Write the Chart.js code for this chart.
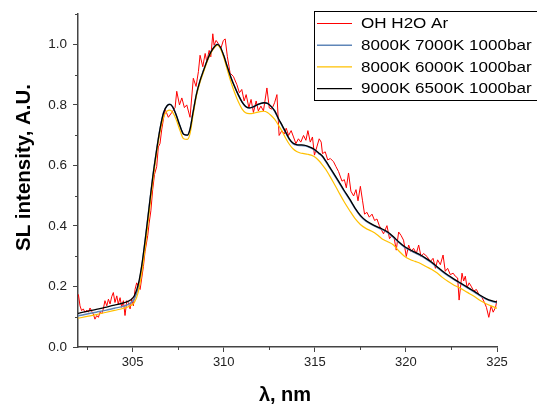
<!DOCTYPE html>
<html><head><meta charset="utf-8">
<script src="https://cdn.jsdelivr.net/npm/chart.js@4/dist/chart.umd.min.js"></script>
<style>html,body{margin:0;padding:0;background:#fff}#wrap{width:537px;height:413px}</style>
</head><body><div id="wrap"><canvas id="c" width="537" height="413"></canvas></div>
<script>
const seriesLabels = ['OH H2O Ar', '8000K 7000K 1000bar', '8000K 6000K 1000bar', '9000K 6500K 1000bar'];
const seriesColors = ['#ff0000', '#5f86b8', '#ffc000', '#000000'];

const ohX = [302.02,302.11,302.2,302.29,302.38,302.48,302.57,302.66,302.75,302.84,302.93,303.03,303.12,303.21,303.3,303.39,303.48,303.58,303.67,303.76,303.85,303.94,304.03,304.13,304.21,304.31,304.4,304.49,304.58,304.68,304.76,304.86,304.95,305.04,305.13,305.22,305.31,305.41,305.5,305.59,305.68,305.83,305.9,306.0,306.1,306.2,306.32,306.41,306.5,306.6,306.78,306.96,307.15,307.33,307.42,307.57,307.7,307.84,307.97,308.15,308.33,308.48,308.61,308.7,308.85,308.98,309.07,309.2,309.29,309.4,309.47,309.58,309.71,309.84,309.98,310.08,310.2,310.35,310.53,310.72,310.86,310.99,311.12,311.23,311.38,311.5,311.63,311.78,311.9,312.04,312.18,312.37,312.5,312.64,312.79,312.92,313.04,313.19,313.32,313.43,313.56,313.7,313.83,313.96,314.1,314.23,314.38,314.51,314.62,314.75,314.87,314.98,315.11,315.24,315.35,315.42,315.57,315.71,315.85,316.03,316.16,316.3,316.49,316.62,316.73,316.85,316.98,317.13,317.26,317.37,317.5,317.62,317.73,317.86,317.99,318.14,318.28,318.41,318.54,318.77,318.96,319.1,319.24,319.36,319.47,319.6,319.73,319.87,320.02,320.15,320.28,320.42,320.57,320.7,320.83,320.97,321.16,321.34,321.49,321.62,321.74,321.89,322.04,322.16,322.29,322.44,322.59,322.71,322.84,322.92,323.08,323.17,323.26,323.36,323.47,323.58,323.72,323.87,324.0,324.18,324.31,324.42,324.55,324.68,324.79,324.92,325.0];
const ohY = [0.174,0.136,0.12,0.126,0.115,0.122,0.115,0.129,0.118,0.109,0.092,0.104,0.098,0.115,0.109,0.126,0.153,0.136,0.158,0.142,0.166,0.18,0.147,0.169,0.142,0.163,0.131,0.153,0.104,0.153,0.147,0.126,0.158,0.136,0.19,0.212,0.201,0.19,0.228,0.266,0.315,0.369,0.407,0.45,0.52,0.57,0.596,0.661,0.672,0.72,0.786,0.759,0.775,0.791,0.845,0.80,0.823,0.791,0.80,0.759,0.888,0.861,0.91,0.964,0.926,0.97,0.943,0.98,0.959,1.035,0.997,1.013,1.002,0.986,1.013,1.018,0.959,0.905,0.894,0.867,0.84,0.851,0.813,0.834,0.791,0.818,0.775,0.813,0.78,0.796,0.78,0.856,0.79,0.786,0.807,0.834,0.699,0.715,0.704,0.723,0.699,0.715,0.694,0.672,0.688,0.677,0.699,0.683,0.715,0.677,0.694,0.634,0.661,0.688,0.677,0.639,0.645,0.618,0.623,0.612,0.596,0.58,0.548,0.553,0.526,0.575,0.515,0.499,0.52,0.483,0.531,0.483,0.439,0.445,0.429,0.439,0.418,0.423,0.401,0.374,0.401,0.358,0.369,0.358,0.32,0.38,0.369,0.353,0.299,0.337,0.315,0.326,0.309,0.337,0.299,0.309,0.299,0.282,0.293,0.26,0.288,0.272,0.304,0.25,0.26,0.239,0.244,0.234,0.228,0.155,0.244,0.218,0.234,0.196,0.212,0.201,0.185,0.19,0.174,0.163,0.147,0.131,0.098,0.136,0.115,0.131,0.155];

const modelX = [302.0,302.5,303.0,303.5,304.0,304.5,304.9,305.1,305.3,305.5,305.7,305.9,306.1,306.3,306.5,306.7,306.9,307.05,307.2,307.4,307.6,307.8,308.0,308.15,308.3,308.5,308.7,308.9,309.1,309.3,309.5,309.65,309.8,310.0,310.2,310.4,310.6,310.8,311.0,311.2,311.4,311.6,311.8,312.0,312.2,312.4,312.6,312.8,313.0,313.2,313.4,313.6,313.8,314.0,314.2,314.4,314.6,314.8,315.0,315.2,315.4,315.6,315.8,316.0,316.3,316.6,316.9,317.2,317.5,317.8,318.1,318.4,318.7,319.0,319.3,319.6,319.9,320.2,320.5,320.8,321.1,321.4,321.7,322.0,322.3,322.6,322.9,323.2,323.5,323.8,324.1,324.4,324.7,325.0];
const k8070Y = [0.103,0.109,0.115,0.121,0.128,0.135,0.146,0.160,0.195,0.265,0.358,0.46,0.56,0.645,0.72,0.775,0.798,0.802,0.793,0.765,0.73,0.703,0.700,0.72,0.77,0.835,0.88,0.915,0.948,0.975,0.993,1.0,0.992,0.963,0.925,0.89,0.86,0.833,0.81,0.795,0.79,0.793,0.799,0.804,0.807,0.805,0.795,0.779,0.754,0.731,0.708,0.686,0.672,0.667,0.666,0.665,0.662,0.657,0.650,0.640,0.630,0.613,0.594,0.575,0.546,0.516,0.488,0.458,0.433,0.416,0.405,0.396,0.388,0.378,0.363,0.346,0.331,0.320,0.311,0.302,0.291,0.279,0.264,0.249,0.236,0.224,0.213,0.202,0.191,0.180,0.168,0.158,0.151,0.147];
const k8060Y = [0.095,0.101,0.107,0.114,0.121,0.128,0.137,0.148,0.18,0.245,0.335,0.44,0.545,0.635,0.71,0.76,0.78,0.783,0.775,0.75,0.715,0.688,0.686,0.705,0.76,0.83,0.875,0.91,0.945,0.972,0.99,0.997,0.988,0.957,0.915,0.875,0.84,0.81,0.787,0.774,0.771,0.772,0.775,0.778,0.779,0.775,0.765,0.752,0.733,0.713,0.69,0.67,0.655,0.646,0.641,0.639,0.637,0.634,0.628,0.617,0.603,0.587,0.567,0.546,0.513,0.481,0.452,0.425,0.405,0.392,0.383,0.372,0.357,0.348,0.338,0.318,0.301,0.29,0.283,0.276,0.266,0.257,0.245,0.23,0.217,0.206,0.197,0.187,0.176,0.165,0.153,0.143,0.135,0.128];
const k9065Y = [0.111,0.118,0.124,0.131,0.138,0.146,0.156,0.17,0.205,0.27,0.36,0.46,0.56,0.645,0.72,0.775,0.798,0.802,0.793,0.765,0.73,0.703,0.700,0.72,0.77,0.835,0.88,0.915,0.948,0.975,0.993,1.0,0.992,0.963,0.925,0.89,0.86,0.833,0.81,0.795,0.79,0.793,0.799,0.804,0.807,0.805,0.795,0.78,0.755,0.733,0.71,0.688,0.674,0.669,0.668,0.667,0.664,0.659,0.652,0.642,0.632,0.615,0.596,0.577,0.548,0.518,0.49,0.46,0.435,0.418,0.407,0.398,0.39,0.38,0.365,0.348,0.333,0.322,0.313,0.304,0.293,0.281,0.266,0.251,0.238,0.226,0.215,0.204,0.193,0.182,0.17,0.16,0.153,0.149];

const xTicks = [305, 310, 315, 320, 325];
const xMinor = [302.5, 307.5, 312.5, 317.5, 322.5];
const yTicks = [0.0, 0.2, 0.4, 0.6, 0.8, 1.0];
const yMinor = [0.1, 0.3, 0.5, 0.7, 0.9, 1.1];
const xTitle = 'λ, nm';
const yTitle = 'SL intensity, A.U.';

const FONT = '"Liberation Sans", Arial, sans-serif';
const AXIS = '#444';

function pts(xs, ys) { return xs.map((x, i) => ({ x: x, y: ys[i] })); }

const minorTicks = {
  id: 'minorTicks',
  afterDraw(chart) {
    const ctx = chart.ctx, xs = chart.scales.x, ys = chart.scales.y;
    const a = chart.chartArea;
    ctx.save();
    ctx.strokeStyle = AXIS; ctx.lineWidth = 1;
    ctx.beginPath();
    xMinor.forEach(v => { const p = Math.round(xs.getPixelForValue(v)) + 0.5; ctx.moveTo(p, a.bottom); ctx.lineTo(p, a.bottom + 3); });
    yMinor.forEach(v => { const p = Math.round(ys.getPixelForValue(v)) + 0.5; ctx.moveTo(a.left, p); ctx.lineTo(a.left - 3, p); });
    ctx.stroke();
    ctx.fillStyle = '#000';
    ctx.font = 'bold 20px ' + FONT;
    ctx.textAlign = 'center'; ctx.textBaseline = 'alphabetic';
    ctx.fillText(xTitle, 285, 401);
    ctx.translate(29.5, 167.5); ctx.rotate(-Math.PI / 2);
    ctx.font = 'bold 20.5px ' + FONT;
    ctx.fillText(yTitle, 0, 0);
    ctx.restore();
  }
};

const boxLegend = {
  id: 'boxLegend',
  afterDraw(chart) {
    const ctx = chart.ctx;
    ctx.save();
    ctx.fillStyle = '#fff';
    ctx.fillRect(314.5, 11.5, 240, 89);
    ctx.strokeStyle = '#000'; ctx.lineWidth = 1;
    ctx.strokeRect(314.5, 11.5, 240, 89);
    chart.data.datasets.forEach((ds, i) => {
      const y = 23.5 + i * 21.7;
      ctx.strokeStyle = ds.borderColor; ctx.lineWidth = ds.borderWidth;
      ctx.beginPath(); ctx.moveTo(317, y); ctx.lineTo(352, y); ctx.stroke();
      ctx.save();
      ctx.translate(361, y + 0.5); ctx.scale(1.1, 1);
      ctx.fillStyle = '#000'; ctx.font = '15.5px ' + FONT;
      ctx.textAlign = 'left'; ctx.textBaseline = 'middle';
      ctx.fillText(ds.label, 0, 0);
      ctx.restore();
    });
    ctx.restore();
  }
};

new Chart(document.getElementById('c'), {
  type: 'line',
  data: {
    datasets: [
      { label: seriesLabels[0], data: pts(ohX, ohY), borderColor: seriesColors[0], borderWidth: 1, tension: 0, order: 3 },
      { label: seriesLabels[1], data: pts(modelX, k8070Y), borderColor: seriesColors[1], borderWidth: 1.5, cubicInterpolationMode: 'monotone', order: 2 },
      { label: seriesLabels[2], data: pts(modelX, k8060Y), borderColor: seriesColors[2], borderWidth: 1.2, cubicInterpolationMode: 'monotone', order: 1 },
      { label: seriesLabels[3], data: pts(modelX, k9065Y), borderColor: seriesColors[3], borderWidth: 1.3, cubicInterpolationMode: 'monotone', order: 0 }
    ]
  },
  options: {
    responsive: false, animation: false, devicePixelRatio: 1,
    layout: { padding: { left: 0, right: 40, top: 8, bottom: 0 } },
    elements: { point: { radius: 0, hoverRadius: 0 } },
    plugins: { legend: { display: false }, tooltip: { enabled: false } },
    scales: {
      x: {
        type: 'linear', min: 302, max: 325,
        afterBuildTicks: s => { s.ticks = xTicks.map(v => ({ value: v })); },
        afterFit: s => { s.height = 66; },
        ticks: { font: { family: FONT, size: 13 }, color: '#222', padding: 3, maxRotation: 0, autoSkip: false, callback: v => String(v) },
        grid: { drawOnChartArea: false, drawTicks: true, tickLength: 5, color: AXIS, tickWidth: 1 },
        border: { color: AXIS, width: 1.5 }
      },
      y: {
        type: 'linear', min: 0, max: 1.1,
        afterBuildTicks: s => { s.ticks = yTicks.map(v => ({ value: v })); },
        afterFit: s => { s.width = 78; },
        ticks: { font: { family: FONT, size: 13.5 }, color: '#222', padding: 6, autoSkip: false, callback: v => Number(v).toFixed(1) },
        grid: { drawOnChartArea: false, drawTicks: true, tickLength: 5, color: AXIS, tickWidth: 1 },
        border: { color: AXIS, width: 1.5 }
      }
    }
  },
  plugins: [minorTicks, boxLegend]
});
</script>
</body></html>
